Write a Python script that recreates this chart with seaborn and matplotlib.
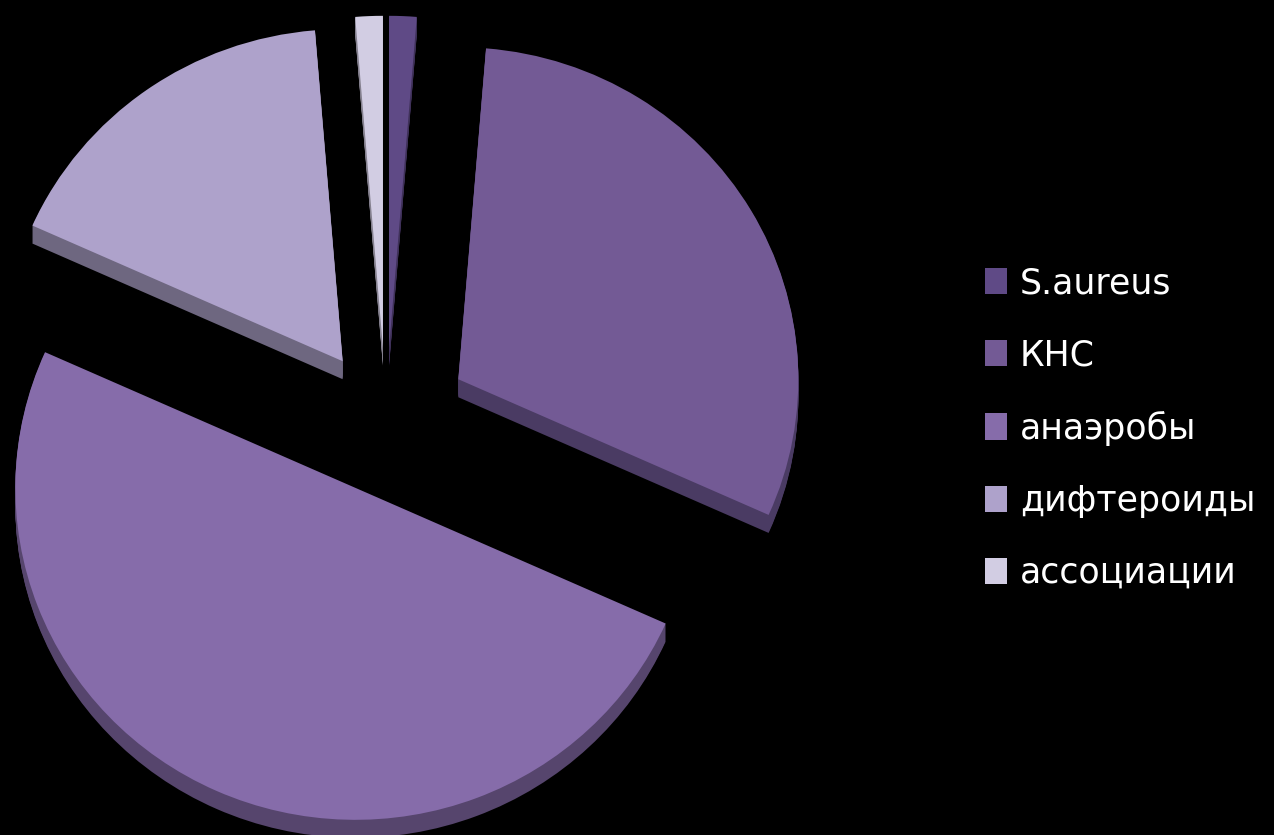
import numpy as np
import matplotlib
matplotlib.use("Agg")
import matplotlib.pyplot as plt
import seaborn as sns
from matplotlib.patches import Patch

# Share of isolated microflora
labels = ["S.aureus", "КНС", "анаэробы", "дифтероиды", "ассоциации"]
values = [1.3, 30.4, 50.0, 17.0, 1.3]

# Face colours of the slices and the darker tone of their sides
face_colors = ["#5f4a86", "#735a95", "#866caa", "#aea2cb", "#d2cde3"]
side_colors = ["#3f3159", "#4a3b63", "#56456d", "#6e6780", "#85818f"]

sns.set_theme(style="white")
plt.rcParams["font.family"] = ["DejaVu Sans"]

W, H = 1274, 835
fig = plt.figure(figsize=(W / 100, H / 100), dpi=100, facecolor="black")
ax = fig.add_axes([0, 0, 1, 1])
ax.set_facecolor("black")

# Pie is slightly flattened vertically: y data units per pixel
radius = 340
ry_px = 332
sy = radius / ry_px
cx, cy_px = 386, 421
center = (cx, (H - cy_px) * sy)
# pie() offsets exploded wedges in data units
explode = [75, 84, 75, 75, 75]
depth = 18

# Extruded sides: stacked darker copies shifted downward
for k in range(depth, 0, -1):
    ax.pie(values, explode=explode, startangle=90, counterclock=False,
           colors=side_colors, radius=radius,
           center=(center[0], center[1] - k * sy),
           wedgeprops=dict(linewidth=0), frame=True)

# Top faces
wedges, _ = ax.pie(values, explode=explode, startangle=90, counterclock=False,
                   colors=face_colors, radius=radius, center=center,
                   wedgeprops=dict(linewidth=0), frame=True)

ax.set_xlim(0, W)
ax.set_ylim(0, H * sy)
ax.set_aspect("auto")
ax.axis("off")

handles = [Patch(facecolor=c, edgecolor="none") for c in face_colors]
leg = fig.legend(handles, labels, loc="center left", bbox_to_anchor=(0.773, 0.4874),
                 frameon=False, fontsize=25, labelcolor="white",
                 handlelength=0.63, handleheight=0.78, handletextpad=0.38,
                 labelspacing=1.1, borderaxespad=0, borderpad=0)

fig.savefig("out.png", dpi=100, facecolor="black")
